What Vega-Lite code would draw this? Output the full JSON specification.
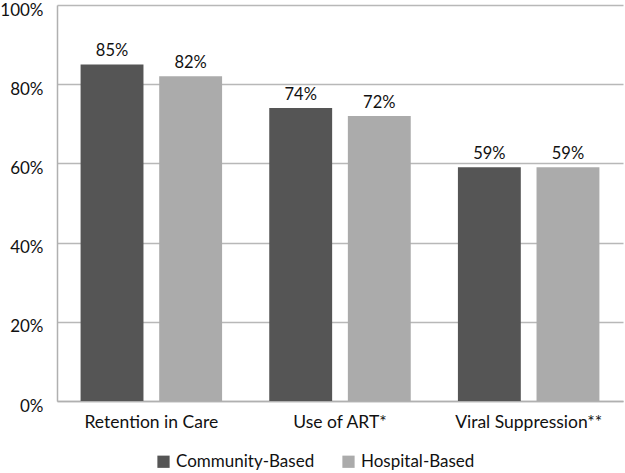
{
  "$schema": "https://vega.github.io/schema/vega-lite/v6.json",
  "autosize": "none",
  "width": 566,
  "height": 396,
  "padding": {"left": 57, "top": 5, "right": 2, "bottom": 72},
  "background": "white",
  "config": {
    "font": "Lato",
    "view": {"stroke": null},
    "axis": {"labelFont": "Lato", "labelColor": "#111", "labelFontSize": 17}
  },
  "data": {
    "values": [
      {"measure": "Retention in Care", "group": "Community-Based", "value": 0.85},
      {"measure": "Retention in Care", "group": "Hospital-Based", "value": 0.82},
      {"measure": "Use of ART*", "group": "Community-Based", "value": 0.74},
      {"measure": "Use of ART*", "group": "Hospital-Based", "value": 0.72},
      {"measure": "Viral Suppression**", "group": "Community-Based", "value": 0.59},
      {"measure": "Viral Suppression**", "group": "Hospital-Based", "value": 0.59}
    ]
  },
  "encoding": {
    "x": {
      "field": "measure", "type": "nominal", "sort": null, "title": null,
      "scale": {"paddingInner": 0.25, "paddingOuter": 0.125},
      "axis": {"labelAngle": 0, "ticks": false, "domainColor": "#b0b0b0", "domainWidth": 1.5, "labelPadding": 12, "labelFontSize": 17.5, "labelOverlap": false}
    },
    "xOffset": {"field": "group", "type": "nominal", "sort": null, "scale": {"paddingInner": 0.2, "paddingOuter": 0}},
    "y": {
      "field": "value", "type": "quantitative", "title": null,
      "scale": {"domain": [0, 1]},
      "axis": {"format": ".0%", "values": [0, 0.2, 0.4, 0.6, 0.8, 1], "labelOverlap": false, "labelFlush": false, "ticks": false, "domainColor": "#b0b0b0", "domainWidth": 1.5, "gridColor": "#b8b8b8", "gridWidth": 1.5, "labelPadding": 14, "labelOffset": 5}
    }
  },
  "layer": [
    {
      "mark": {"type": "bar"},
      "encoding": {
        "color": {
          "field": "group", "type": "nominal", "sort": null, "title": null,
          "scale": {"range": ["#555555", "#ababab"]},
          "legend": {"orient": "none", "direction": "horizontal", "legendX": 98, "legendY": 448, "symbolType": "square", "symbolSize": 150, "symbolStrokeWidth": 0, "labelFontSize": 17, "labelFont": "Lato", "labelColor": "#111", "columnPadding": 25, "symbolOpacity": 1}
        }
      }
    },
    {
      "mark": {"type": "text", "baseline": "bottom", "dy": -5, "fontSize": 16.5, "font": "Lato", "color": "#111"},
      "encoding": {"text": {"field": "value", "type": "quantitative", "format": ".0%"}}
    }
  ]
}
